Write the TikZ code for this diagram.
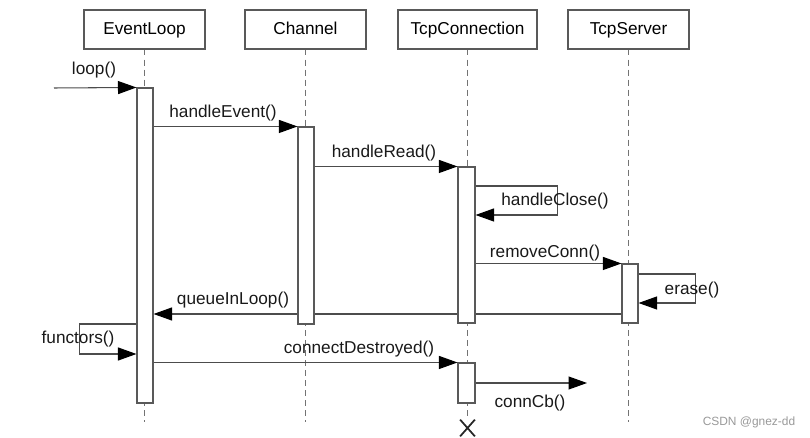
\documentclass[tikz,border=0pt]{standalone}
\usepackage{fontspec}
\setmainfont{Liberation Sans}
\usetikzlibrary{arrows.meta}
\usetikzlibrary{fit}
\usetikzlibrary{shapes.misc}

\pgfdeclarelayer{back}
\pgfsetlayers{back,main}

\tikzset{
  obj/.style={draw=black!65, line width=0.6pt, minimum width=2.42cm, minimum height=0.78cm, inner sep=0pt, text height=0.72em, text depth=0.2em, font=\fontsize{9.8}{12}\selectfont},
  life/.style={draw=black!55, line width=0.6pt, dash pattern=on 3.4pt off 2.3pt},
  act/.style={draw=black!65, fill=white, line width=0.6pt, inner sep=0pt},
  msg/.style={draw=black!70, line width=0.6pt, -{Triangle[length=0.37cm,width=0.26cm,color=black]}},
  lbl/.style={inner sep=0pt, text height=0.72em, text depth=0.2em, text=black!90, font=\fontsize{9.8}{12}\selectfont},
}

\begin{document}
\begin{tikzpicture}[x=0.02cm, y=-0.02cm]
    \useasboundingbox (0,0) rectangle (810,438);
    \node[obj] (loopObj) at (144.5,29.5) {EventLoop};
    \node[obj] (chanObj) at (305.5,29.5) {Channel};
    \node[obj, minimum width=2.78cm] (connObj) at (467.5,29.5) {TcpConnection};
    \node[obj] (servObj) at (628.5,29.5) {TcpServer};
    \coordinate (loopEnd) at (144.5,422);
    \coordinate (chanEnd) at (305.5,422);
    \coordinate (servEnd) at (628.5,422);
    \node[cross out, draw=black!85, line width=1pt, minimum width=0.26cm, minimum height=0.3cm, inner sep=0pt] (connX) at (467.5,428) {};

    % activations
    \node[act, fit={(137,88) (153,403)}] (loopAct) {};
    \node[act, fit={(298,127) (314,324)}] (chanAct) {};
    \node[act, fit={(458,167) (475,323)}] (connAct) {};
    \node[act, fit={(622,264) (638,323)}] (servAct) {};
    \node[act, fit={(458,363) (475,403)}] (connAct2) {};

    \begin{pgfonlayer}{back}
    \draw[life] (loopObj.south) -- (loopEnd);
    \draw[life] (chanObj.south) -- (chanEnd);
    \draw[life] (connObj.south) -- (connX.north);
    \draw[life] (servObj.south) -- (servEnd);
    \draw[msg] (servAct.west |- 0,314) -- (loopAct.east |- 0,314);
    \end{pgfonlayer}

    \coordinate (loopIn) at (54,88);
    \draw[msg] (loopIn) -- (loopAct.north west);
    \draw[msg] (loopAct.east |- chanAct.north) -- (chanAct.north west);
    \draw[msg] (chanAct.east |- connAct.north) -- (connAct.north west);
    \draw[msg] (connAct.east |- 0,186) -- ++(82,0) -- ++(0,29) -- (connAct.east |- 0,215);
    \draw[msg] (connAct.east |- servAct.north) -- (servAct.north west);
    \draw[msg] (servAct.east |- 0,274) -- ++(57,0) -- ++(0,29) -- (servAct.east |- 0,303);
    \draw[msg] (loopAct.west |- 0,324) -- ++(-57,0) -- ++(0,30) -- (loopAct.west |- 0,354);
    \draw[msg] (loopAct.east |- connAct2.north) -- (connAct2.north west);
    \coordinate (cbEnd) at (587,383);
    \draw[msg] (connAct2.east |- cbEnd) -- (cbEnd);

    \node[lbl] (loopL) at (94,70) {loop()};
    \node[lbl] (eventL) at (223,113) {handleEvent()};
    \node[lbl] (readL) at (384,153) {handleRead()};
    \node[lbl] (closeL) at (555,201) {handleClose()};
    \node[lbl] (removeL) at (545,253) {removeConn()};
    \node[lbl] (eraseL) at (692,290) {erase()};
    \node[lbl] (queueL) at (233,300) {queueInLoop()};
    \node[lbl] (functorsL) at (78,339) {functors()};
    \node[lbl] (destroyL) at (359,349) {connectDestroyed()};
    \node[lbl] (cbL) at (530,403) {connCb()};
    \node[inner sep=0pt, text=black!40, font=\fontsize{6.8}{8}\selectfont] (markL) at (749,422) {CSDN @gnez-dd};
\end{tikzpicture}
\end{document}
